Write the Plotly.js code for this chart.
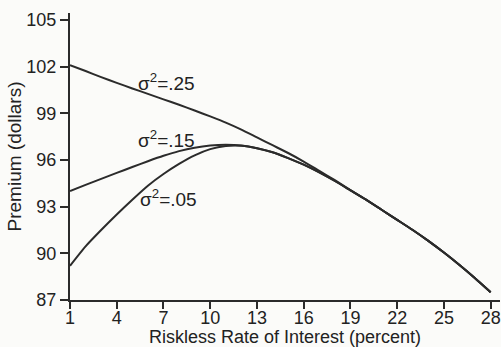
<!DOCTYPE html>
<html>
<head>
<meta charset="utf-8">
<script src="https://cdn.plot.ly/plotly-3.0.1.min.js"></script>
<style>html,body{margin:0;padding:0;background:#fbfbf9;}#chart{width:501px;height:347px;}</style>
</head>
<body>
<div id="chart"></div>
<script>
const rates = [1,2,3,4,5,6,7,8,9,10,11,12,13,14,15,16,17,18,19,20,21,22,23,24,25,26,27,28];
const premium25 = [102.1,101.72,101.33,100.96,100.6,100.25,99.9,99.55,99.18,98.8,98.4,97.95,97.45,96.95,96.45,95.9,95.3,94.7,94.07,93.45,92.8,92.15,91.5,90.8,90.05,89.25,88.4,87.5];
const premium15 = [94.0,94.4,94.79,95.17,95.55,95.92,96.27,96.57,96.79,96.93,96.98,96.93,96.76,96.5,96.12,95.7,95.2,94.65,94.05,93.45,92.8,92.15,91.5,90.8,90.05,89.25,88.4,87.5];
const premium05 = [89.2,90.45,91.5,92.5,93.45,94.35,95.1,95.75,96.3,96.7,96.9,96.92,96.76,96.5,96.12,95.7,95.2,94.65,94.05,93.45,92.8,92.15,91.5,90.8,90.05,89.25,88.4,87.5];
const seriesLabels = ['σ<sup>2</sup>=.25','σ<sup>2</sup>=.15','σ<sup>2</sup>=.05'];
const xTicks = [1,4,7,10,13,16,19,22,25,28];
const yTicks = [87,90,93,96,99,102,105];

const lineStyle = {color:'#2b2b2b', width:2, shape:'spline', smoothing:0.6};
const traces = [premium25, premium15, premium05].map((ys,i)=>({
  x: rates, y: ys, type:'scatter', mode:'lines', line: lineStyle, name: seriesLabels[i], hoverinfo:'skip'
}));

const fam = 'Liberation Sans, Arial, sans-serif';
const txt = '#222';
const layout = {
  width:501, height:347,
  margin:{l:70, r:1, t:13, b:47},
  paper_bgcolor:'#fbfbf9', plot_bgcolor:'#fbfbf9',
  showlegend:false,
  font:{family:fam, size:18, color:txt},
  xaxis:{
    range:[1,28.6], tickvals:xTicks, ticktext:xTicks.map(String),
    showgrid:false, zeroline:false, showline:true, linecolor:'#2b2b2b', linewidth:2,
    ticks:'outside', ticklen:7, tickwidth:2, tickcolor:'#2b2b2b', ticklabelstandoff:-7,
    tickfont:{family:fam, size:18, color:txt}, automargin:false,
    title:{text:'Riskless Rate of Interest (percent)', font:{family:fam, size:18, color:txt}, standoff:0}
  },
  yaxis:{
    range:[87,105.45], tickvals:yTicks, ticktext:yTicks.map(String),
    showgrid:false, zeroline:false, showline:true, linecolor:'#2b2b2b', linewidth:2,
    ticks:'outside', ticklen:8, tickwidth:2, tickcolor:'#2b2b2b',
    tickfont:{family:fam, size:18, color:txt}, automargin:false,
    title:{text:'Premium (dollars)', font:{family:fam, size:19, color:txt}, standoff:0}
  },
  annotations:[
    {x:7.2, y:101.0, text:seriesLabels[0], showarrow:false, font:{family:fam, size:19, color:txt}},
    {x:7.2, y:97.35, text:seriesLabels[1], showarrow:false, font:{family:fam, size:19, color:txt}},
    {x:7.3, y:93.55, text:seriesLabels[2], showarrow:false, font:{family:fam, size:19, color:txt}}
  ]
};
Plotly.newPlot('chart', traces, layout, {staticPlot:true, displayModeBar:false});
</script>
</body>
</html>
